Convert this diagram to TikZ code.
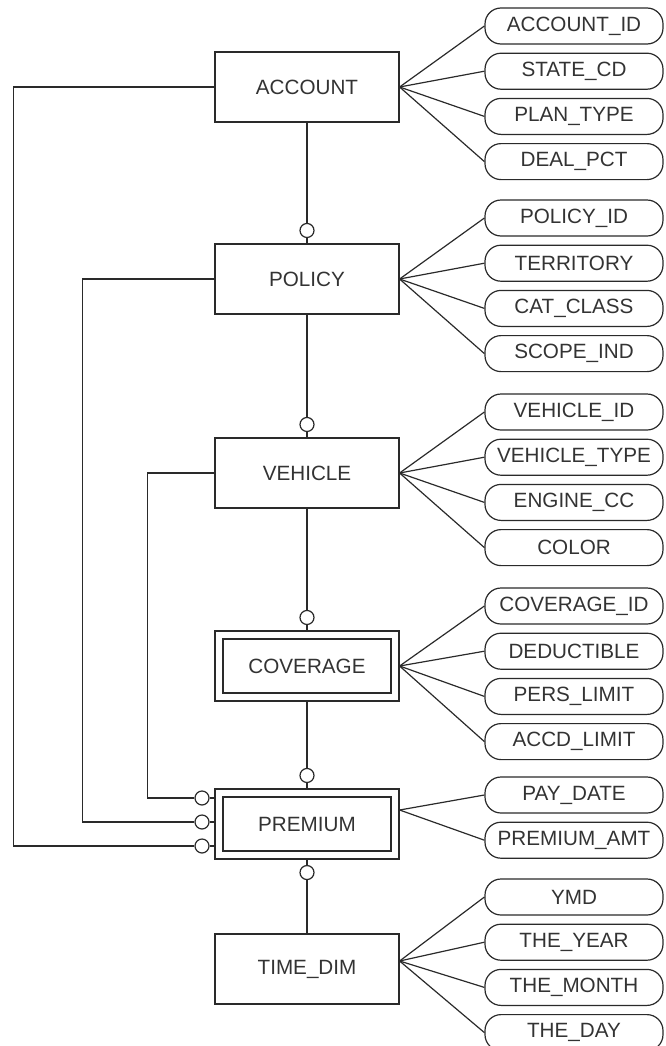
\documentclass[tikz,border=0pt]{standalone}
\usepackage{fontspec}
\setmainfont{Liberation Sans}
\usepackage{tikz}
\usetikzlibrary{positioning}
\definecolor{erLine}{HTML}{2a2a2a}
\definecolor{erText}{HTML}{333333}
\newcommand{\erfont}{\fontsize{15.5}{18}\selectfont}

\begin{document}
\begin{tikzpicture}[x=0.75pt, y=-0.75pt, line width=0.9pt, color=erLine,
  ent/.style={draw=erLine, minimum width=138pt, minimum height=52.5pt, inner sep=0pt, text=erText, font=\erfont},
  wkin/.style={draw=erLine, minimum width=126pt, minimum height=40.5pt, inner sep=0pt, text=erText, font=\erfont},
  attr/.style={draw=erLine, rounded corners=12pt, minimum width=133.5pt, minimum height=27pt, inner sep=0pt, text=erText, font=\erfont},
  opt/.style={circle, draw=erLine, fill=white, minimum size=10.5pt, inner sep=0pt}]
\useasboundingbox (0,0) rectangle (665,1046);
% entities
\node[ent] (acct) at (307,87) {ACCOUNT};
\node[ent] (pol) at (307,279) {POLICY};
\node[ent] (veh) at (307,473) {VEHICLE};
\node[ent] (cov) at (307,666) {}; \node[wkin] (covin) at (cov) {COVERAGE};
\node[ent] (prem) at (307,824) {}; \node[wkin] (premin) at (prem) {PREMIUM};
\node[ent] (tdim) at (307,969) {TIME\_DIM};
% optional ends
\node[opt, above=4pt of pol] (oPol) {};
\node[opt, above=4pt of veh] (oVeh) {};
\node[opt, above=4pt of cov] (oCov) {};
\node[opt, above=4pt of prem] (oPrem) {};
\node[opt, below=4pt of prem] (oTime) {};
\node[opt] (oL1) at (202,798) {};
\node[opt] (oL2) at (202,822) {};
\node[opt] (oL3) at (202,846) {};
\draw (acct) -- (oPol) -- (pol);
\draw (pol) -- (oVeh) -- (veh);
\draw (veh) -- (oCov) -- (cov);
\draw (cov) -- (oPrem) -- (prem);
\draw (prem) -- (oTime) -- (tdim);
\draw (veh.west) -- ++(-67,0) |- (oL1);
\draw (pol.west) -- ++(-132,0) |- (oL2);
\draw (acct.west) -- ++(-201,0) |- (oL3);
\foreach \o in {oL1,oL2,oL3} \draw (\o) -- (\o -| prem.west);
% attributes
\node[attr] (aid) at (574,26) {ACCOUNT\_ID};
\node[attr, below=6pt of aid] (scd) {STATE\_CD};
\node[attr, below=6pt of scd] (ptyp) {PLAN\_TYPE};
\node[attr, below=6pt of ptyp] (dpct) {DEAL\_PCT};
\node[attr] (pid) at (574,218) {POLICY\_ID};
\node[attr, below=6pt of pid] (terr) {TERRITORY};
\node[attr, below=6pt of terr] (ccls) {CAT\_CLASS};
\node[attr, below=6pt of ccls] (sind) {SCOPE\_IND};
\node[attr] (vid) at (574,412) {VEHICLE\_ID};
\node[attr, below=6pt of vid] (vtyp) {VEHICLE\_TYPE};
\node[attr, below=6pt of vtyp] (ecc) {ENGINE\_CC};
\node[attr, below=6pt of ecc] (col) {COLOR};
\node[attr] (cid) at (574,606) {COVERAGE\_ID};
\node[attr, below=6pt of cid] (ded) {DEDUCTIBLE};
\node[attr, below=6pt of ded] (plim) {PERS\_LIMIT};
\node[attr, below=6pt of plim] (alim) {ACCD\_LIMIT};
\node[attr] (pday) at (574,795) {PAY\_DATE};
\node[attr, below=6pt of pday] (pamt) {PREMIUM\_AMT};
\node[attr] (ymd) at (574,897) {YMD};
\node[attr, below=6pt of ymd] (tyr) {THE\_YEAR};
\node[attr, below=6pt of tyr] (tmon) {THE\_MONTH};
\node[attr, below=6pt of tmon] (tday) {THE\_DAY};
\coordinate (hPrem) at ([yshift=10.5pt]prem.east);
\coordinate (hTime) at ([yshift=6pt]tdim.east);
\foreach \a in {aid,scd,ptyp,dpct} \draw (acct.east) -- (\a.west);
\foreach \a in {pid,terr,ccls,sind} \draw (pol.east) -- (\a.west);
\foreach \a in {vid,vtyp,ecc,col} \draw (veh.east) -- (\a.west);
\foreach \a in {cid,ded,plim,alim} \draw (cov.east) -- (\a.west);
\foreach \a in {pday,pamt} \draw (hPrem) -- (\a.west);
\foreach \a in {ymd,tyr,tmon,tday} \draw (hTime) -- (\a.west);
\end{tikzpicture}
\end{document}
